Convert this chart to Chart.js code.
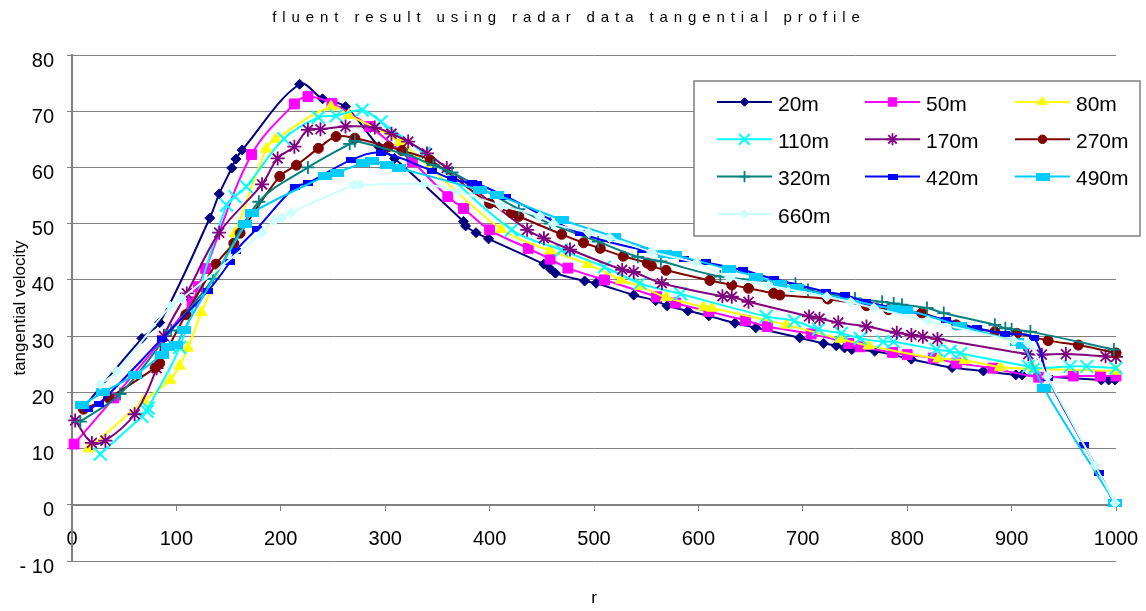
<!DOCTYPE html>
<html lang="en">
<head>
<meta charset="UTF-8">
<title>fluent result using radar data tangential profile</title>
<script src="https://cdn.jsdelivr.net/npm/chart.js@4.4.1"></script>
<style>
  html,body{margin:0;padding:0;background:#fff}
  .wrap{position:relative;width:1146px;height:611px}
</style>
</head>
<body>
<div class="wrap"><canvas id="chart" width="1146" height="611"></canvas></div>
<script>
// tangential velocity profiles, [r, velocity] per height
const s20m  = [[12,17.5],[67,29.6],[84,32.4],[132,51.0],[141,55.3],[153,59.9],[157,61.5],[163,63.1],[218,74.8],[240,72.2],[262,70.8],[294,63.7],[309,61.6],[375,50.4],[377,49.6],[387,48.4],[399,47.3],[452,42.8],[458,42.0],[463,41.2],[491,39.8],[502,39.4],[538,37.3],[559,36.3],[570,35.4],[590,34.5],[610,33.6],[635,32.3],[655,31.5],[697,29.7],[720,28.7],[732,28.3],[740,27.9],[747,27.6],[769,27.3],[804,25.9],[843,24.4],[873,23.8],[904,23.1],[910,23.1],[986,22.2],[993,22.2],[999,22.2]];
const s50m  = [[2,10.8],[40,19],[115,36.1],[121,38.8],[128,42],[172,62.3],[213,71.3],[226,72.6],[249,71.4],[285,67.3],[326,61],[360,54.8],[375,52.7],[400,48.9],[437,45.6],[458,43.7],[475,42.1],[510,40],[560,37],[578,35.9],[610,34.4],[645,32.8],[666,31.7],[708,30.4],[744,28.7],[755,28.1],[786,27.1],[800,26.7],[825,26.1],[847,25.2],[882,24.3],[926,22.7],[959,22.9],[985,22.9],[1000,22.9]];
const s80m  = [[16,10],[69,18.5],[94,22.2],[103,24.7],[111,27.9],[124,34.2],[156,48.3],[186,63.3],[195,65],[248,70.8],[265,69.3],[314,64.5],[411,49],[458,45.2],[494,42.8],[526,40],[544,38.9],[569,36.9],[605,35.2],[613,35],[684,32],[736,29.5],[763,28.3],[830,26],[855,25.7],[889,24.5],[921,24.2],[1000,23.8]];
const s110m = [[27,9],[67,15.7],[72,16.6],[73,17.2],[103,28],[148,53.3],[156,54.8],[167,56.6],[203,65.1],[236,68.9],[253,69.2],[278,70.2],[296,68.1],[337,62.5],[421,48.9],[469,45.3],[510,42.3],[544,39.4],[583,37.5],[665,33.5],[692,32.7],[715,31.2],[737,30.5],[755,29.6],[777,29],[787,29],[828,27.6],[841,27.3],[851,26.9],[916,24.6],[922,24.3],[956,24.6],[972,24.6],[1000,24.3]];
const s170m = [[3,15],[19,11],[32,11.4],[60,16.1],[81,24.3],[88,30],[110,37.6],[141,48.4],[182,57],[197,61.6],[213,63.7],[226,66.7],[238,66.8],[262,67.3],[290,67.1],[306,66],[322,64.6],[340,62.5],[359,59.9],[436,48.9],[452,47.4],[477,45.4],[527,41.8],[538,41.4],[565,39.4],[623,37.1],[632,37],[648,36.1],[706,33.5],[716,33.1],[734,32.4],[761,31.7],[790,30.6],[804,30.2],[815,29.9],[829,29.5],[916,26.8],[929,26.7],[952,26.8],[990,26.4],[1000,26.3]];
const s270m = [[11,17],[35,19],[80,24.4],[84,25.2],[109,33.8],[138,42.8],[155,46.5],[161,48.3],[199,58.4],[215,60.4],[236,63.4],[253,65.5],[271,65.2],[303,63.7],[316,63],[343,61.3],[400,53.6],[421,51.9],[428,51.3],[469,48.1],[490,46.6],[506,45.6],[528,44.2],[551,43],[555,42.5],[569,41.7],[611,39.9],[632,39.1],[648,38.5],[672,37.6],[678,37.3],[724,36.6],[761,35.4],[782,34.7],[814,34.1],[847,32],[884,30.8],[905,30.5],[935,29.2],[964,28.4],[1000,27]];
const s320m = [[8,14.8],[46,19.7],[95,31],[135,40.2],[179,53.9],[226,60],[266,64.2],[271,64.7],[321,62.2],[346,60.4],[364,59.1],[428,52.6],[458,50],[504,46.8],[542,44.1],[564,43.3],[621,40.6],[693,39.3],[705,38.2],[750,36.7],[776,36.1],[787,35.8],[795,35.6],[819,35],[835,34.1],[884,32],[894,31.4],[900,31.2],[918,30.8],[998,27.6]];
const s420m = [[15,17],[26,18],[86,29.5],[130,38],[151,43.1],[157,45.2],[177,49.1],[214,56.6],[226,57.2],[267,61.3],[296,62.6],[345,59.4],[364,57.9],[383,57.2],[388,57.1],[416,54.8],[487,48.3],[547,45.3],[586,43.7],[607,43.1],[643,41.7],[672,40.2],[722,37.9],[740,37.3],[761,36.1],[837,32.9],[867,31.4],[894,30.4],[921,29.7],[935,22.5],[969,10.7],[984,5.7],[998,0.3]];
const s490m = [[10,17.8],[30,20],[60,23.1],[86,26.7],[92,28],[100,28.5],[107,31.1],[166,49.9],[172,51.9],[242,58.4],[254,59.1],[279,60.8],[287,61.1],[302,60.4],[313,59.9],[391,56],[407,55.1],[469,50.7],[519,47.7],[568,44.6],[578,44.4],[629,41.9],[655,40.6],[678,39.3],[694,38.5],[787,34.8],[799,34.7],[851,31.8],[905,29],[911,28.5],[931,20.7],[999,0.3]];
const s660m = [[27,21.4],[43,23.7],[94,35.3],[105,36.7],[182,48.4],[194,50.6],[201,51],[210,52],[270,56.9],[276,56.9],[337,57],[369,55.7],[411,53.2],[448,51.3],[461,50],[495,48.4],[515,47.5],[555,45],[598,43],[630,40.4],[667,39],[723,37],[746,36],[768,35],[820,32.7],[902,29.2],[916,28.7],[934,22.8],[980,7],[999,0.3]];

const seriesNames = ['20m','50m','80m','110m','170m','270m','320m','420m','490m','660m'];
const seriesData  = [s20m, s50m, s80m, s110m, s170m, s270m, s320m, s420m, s490m, s660m];
const yTicks = [-10, 0, 10, 20, 30, 40, 50, 60, 70, 80];

const FONT = '"Liberation Sans", Arial, sans-serif';

// flat rectangle markers used by the 420m / 490m series
function barMarker(w, h, color) {
  const c = document.createElement('canvas');
  c.width = w; c.height = h;
  const g = c.getContext('2d');
  g.fillStyle = color;
  g.fillRect(0, 0, w, h);
  return c;
}

const looks = [
  {color:'#000080', style:'rectRot',  r:5,   bw:1},
  {color:'#FF00FF', style:'rect',     r:7,   bw:1},
  {color:'#FFFF00', style:'triangle', r:6.5, bw:1},
  {color:'#00FFFF', style:'crossRot', r:9,   bw:2},
  {color:'#800080', style:'star',     r:7,   bw:1.8},
  {color:'#800000', style:'circle',   r:5,   bw:1},
  {color:'#008080', style:'cross',    r:6.5, bw:1.8},
  {color:'#0000FF', style:barMarker(10, 6, '#0000FF'),  r:5, bw:0},
  {color:'#00CCFF', style:barMarker(14, 8, '#00CCFF'),  r:7, bw:0},
  {color:'#CCFFFF', style:'rectRot',  r:5,   bw:1}
];

const datasets = seriesNames.map((name, i) => ({
  label: name,
  data: seriesData[i].map(p => ({x: p[0], y: p[1]})),
  borderColor: looks[i].color,
  backgroundColor: looks[i].color,
  pointBackgroundColor: looks[i].color,
  pointBorderColor: looks[i].color,
  borderWidth: 2,
  tension: 0.35,
  pointStyle: looks[i].style,
  pointRadius: looks[i].r,
  pointBorderWidth: looks[i].bw,
  order: seriesNames.length - 1 - i,
  clip: false
}));

// title with the wide letter spacing of the original sheet
const spacedTitle = {
  id: 'spacedTitle',
  afterDraw(chart) {
    const ctx = chart.ctx;
    ctx.save();
    ctx.font = '15px ' + FONT;
    ctx.letterSpacing = '5.9px';
    ctx.fillStyle = '#000';
    ctx.textAlign = 'center';
    ctx.textBaseline = 'middle';
    ctx.fillText('fluent result using radar data tangential profile', 569, 18);
    ctx.restore();
  }
};

// boxed three-column legend at the top right
const boxLegend = {
  id: 'boxLegend',
  afterDraw(chart) {
    const ctx = chart.ctx;
    const cols = [717, 865, 1015];
    ctx.save();
    ctx.fillStyle = '#fff';
    ctx.fillRect(694, 81, 446, 155);
    ctx.strokeStyle = '#808080';
    ctx.lineWidth = 1.5;
    ctx.strokeRect(694, 81, 446, 155);
    chart.data.datasets.forEach((ds, i) => {
      const x0 = cols[i % 3];
      const y = 102 + Math.floor(i / 3) * 37.3;
      ctx.strokeStyle = ds.borderColor;
      ctx.fillStyle = ds.borderColor;
      ctx.lineWidth = 2;
      ctx.beginPath();
      ctx.moveTo(x0, y);
      ctx.lineTo(x0 + 55, y);
      ctx.stroke();
      ctx.lineWidth = ds.pointBorderWidth || 1;
      Chart.helpers.drawPoint(ctx, {
        pointStyle: ds.pointStyle, radius: ds.pointRadius * 0.85,
        borderWidth: ds.pointBorderWidth, rotation: 0
      }, x0 + 27.5, y);
      ctx.fillStyle = '#000';
      ctx.font = '21px ' + FONT;
      ctx.textAlign = 'left';
      ctx.textBaseline = 'middle';
      ctx.fillText(ds.label, x0 + 61, y + 3);
    });
    ctx.restore();
  }
};

new Chart(document.getElementById('chart'), {
  type: 'line',
  data: {datasets},
  options: {
    responsive: false,
    animation: false,
    events: [],
    layout: {padding: {top: 55, right: 30, left: 0, bottom: 0}},
    plugins: {legend: {display: false}, tooltip: {enabled: false}, title: {display: false}},
    scales: {
      x: {
        type: 'linear', min: 0, max: 1000, position: {y: 0},
        ticks: {stepSize: 100, autoSkip: false, maxRotation: 0, padding: 18,
                color: '#000', font: {family: FONT, size: 20},
                callback: v => String(v)},
        grid: {drawOnChartArea: false, color: '#808080', tickLength: 5},
        border: {color: '#808080', width: 2},
        afterFit(s) { s.paddingLeft = 0; s.paddingRight = 0; }
      },
      xTitle: {
        type: 'linear', position: 'bottom', min: 0, max: 1000,
        ticks: {display: false}, grid: {display: false}, border: {display: false},
        title: {display: true, text: 'r', color: '#000', font: {family: FONT, size: 17}, padding: {top: 0, bottom: 2}},
        afterFit(s) { s.height = 50; s.paddingLeft = 0; s.paddingRight = 0; }
      },
      y: {
        min: -10, max: 80,
        afterBuildTicks(s) { s.ticks = yTicks.map(v => ({value: v})); },
        ticks: {padding: 13, labelOffset: 6, color: '#000', font: {family: FONT, size: 20},
                callback: v => v < 0 ? '- ' + Math.abs(v) : String(v)},
        grid: {color: '#808080', tickLength: 5},
        border: {color: '#808080', width: 2},
        title: {display: true, text: 'tangential velocity', color: '#000',
                font: {family: FONT, size: 17}, padding: {top: 10, bottom: 0}},
        afterFit(s) { s.width = 72; s.paddingTop = 0; s.paddingBottom = 0; }
      }
    }
  },
  plugins: [spacedTitle, boxLegend]
});
</script>
</body>
</html>
